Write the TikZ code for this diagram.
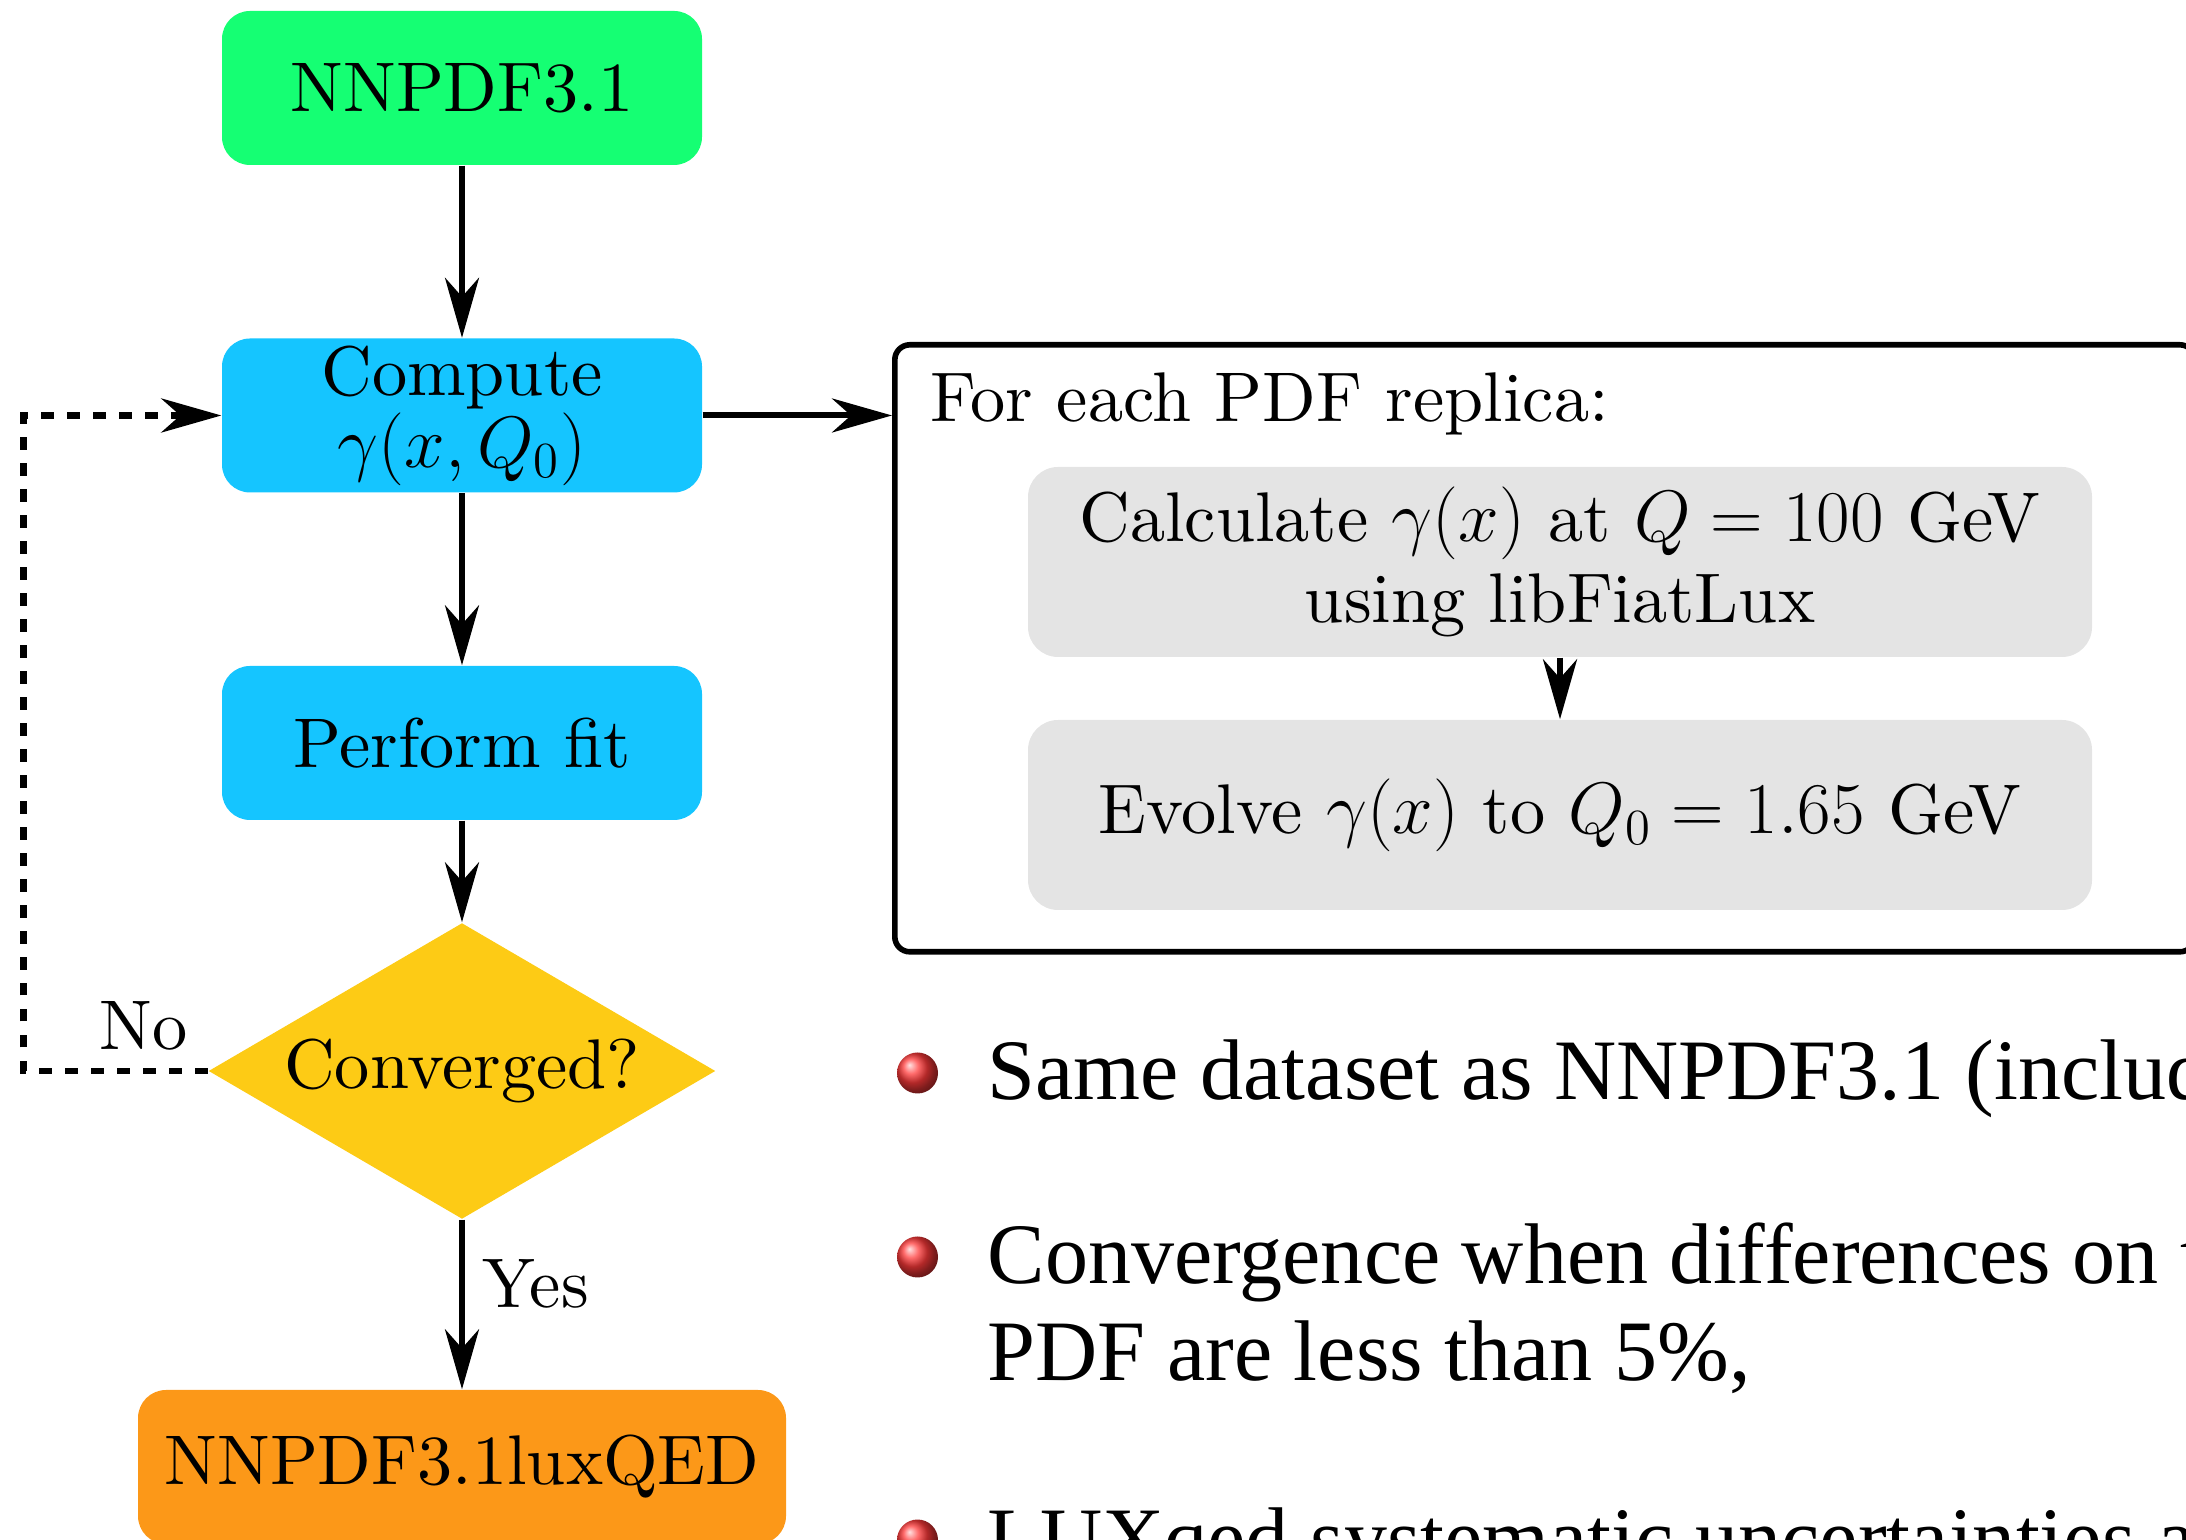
\documentclass[tikz,border=0pt]{standalone}
\usepackage{fontspec}
\usepackage{amsmath}
\usetikzlibrary{arrows.meta,shapes.geometric}
\newfontfamily\chartfont{lmroman10-regular.otf}
\newfontfamily\slidefont{Liberation Serif}
\definecolor{FitGreen}{HTML}{15FF73}
\definecolor{StepBlue}{HTML}{15C5FF}
\definecolor{TestYellow}{HTML}{FDCB15}
\definecolor{LuxOrange}{HTML}{FC9818}
\definecolor{InnerGrey}{HTML}{E4E4E4}
\definecolor{BallRed}{HTML}{FF3A3A}
\tikzset{
  flowbox/.style={rounded corners=0.28cm,minimum width=4.8cm,minimum height=1.54cm,
    inner sep=0pt,align=center,font=\chartfont\fontsize{20}{18.4}\selectfont},
  flowtest/.style={diamond,aspect=1.71,fill=TestYellow,minimum width=5.07cm,
    minimum height=2.96cm,inner sep=0pt},
  innerbox/.style={fill=InnerGrey,rounded corners=0.3cm,minimum width=10.64cm,
    minimum height=1.9cm,inner sep=0pt,align=center,font=\chartfont\fontsize{20}{23.2}\selectfont},
  flowarrow/.style={-{Stealth[length=0.6cm,width=0.34cm,inset=0.19cm]},line width=1.7pt},
  loopline/.style={line width=1.9pt,dash pattern=on 0.125cm off 0.135cm},
  itemtext/.style={anchor=base west,inner sep=0pt,font=\slidefont\fontsize{24.5}{28}\selectfont}
}
\newcommand{\SlideBall}[1]{%
  \shade[ball color=BallRed] (9.175,#1) circle (0.205cm);%
}

\begin{document}
\begin{tikzpicture}[x=1cm,y=1cm,font=\chartfont\fontsize{20}{24}\selectfont]
\useasboundingbox (0,0) rectangle (21.86,15.39);
\clip (0,0) rectangle (21.86,15.39);
% flow chart
\node[flowbox,fill=FitGreen] (pdf) at (4.62,14.51) {NNPDF3.1};
\node[flowbox,fill=StepBlue] (photon) at (4.62,11.235) {Compute\\$\gamma(x,Q_0)$};
\node[flowbox,fill=StepBlue] (fit) at (4.62,7.96) {Perform fit};
\node[flowtest] (conv) at (4.62,4.68) {Converged?};
\node[flowbox,fill=LuxOrange,minimum width=6.48cm] (lux) at (4.62,0.72) {NNPDF3.1luxQED};
\draw[flowarrow] (pdf) -- (photon);
\draw[flowarrow] (photon) -- (fit);
\draw[flowarrow] (fit) -- (conv);
\draw[flowarrow] (conv) -- node[pos=0.38,right,inner sep=0.18cm] (yes) {Yes} (lux);
\draw[flowarrow,loopline] (conv.west) -- ++(-1.845,0)
  node[pos=0.35,above,inner sep=0.17cm] (no) {No} |- (photon.west);
% replica loop
\node[draw,line width=1.6pt,rounded corners=0.15cm,minimum width=13cm,
  minimum height=6.07cm,anchor=north west] (replica) at (8.92,11.97) {};
\node[anchor=base west,inner sep=0pt] (title) at (9.30,11.17) {For each PDF replica:};
\node[innerbox] (calc) at (15.60,9.77) {Calculate $\gamma(x)$ at $Q=100$ GeV\\using libFiatLux};
\node[innerbox] (evolve) at (15.60,7.24) {Evolve $\gamma(x)$ to $Q_0=1.65$ GeV};
\draw[flowarrow] (calc) -- (evolve);
\draw[flowarrow] (photon.east) -- (photon.east -| replica.west);
% items
\SlideBall{4.66}
\SlideBall{2.82}
\SlideBall{-0.01}
\node[itemtext] (item1) at (9.87,4.39) {Same dataset as NNPDF3.1 (including};
\node[itemtext] (item2) at (9.87,2.555) {Convergence when differences on the};
\node[itemtext] (item2b) at (9.87,1.58) {PDF are less than 5\%,};
\node[itemtext] (item3) at (9.87,-0.28) {LUXqed systematic uncertainties added};
\end{tikzpicture}
\end{document}
